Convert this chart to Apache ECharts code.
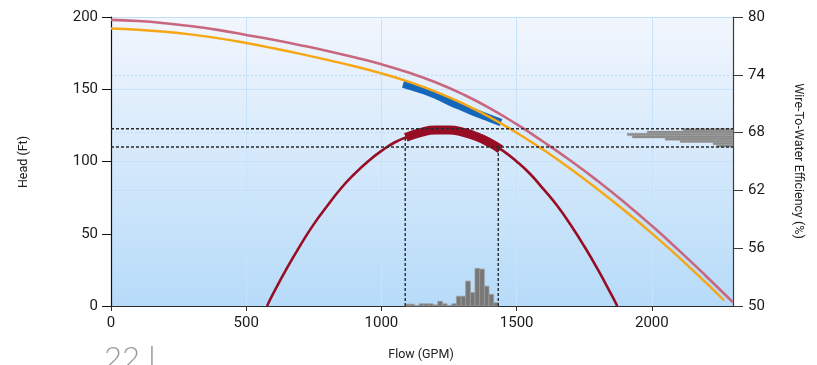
<!DOCTYPE html>
<html>
<head>
<meta charset="utf-8">
<script src="https://cdn.jsdelivr.net/npm/echarts@6/dist/echarts.min.js"></script>
<style>
  html, body { margin: 0; padding: 0; background: #ffffff; }
  #chart { width: 817px; height: 365px; }
</style>
</head>
<body>
<div id="chart"></div>
<script>
// Axis ticks
const flowTicks = [0, 500, 1000, 1500, 2000];
const headTicks = [0, 50, 100, 150, 200];
const effTicks = [50, 56, 62, 68, 74, 80];

// Pump curve at full speed (GPM, ft)
const fullSpeedCurve = [
  [0, 198], [100, 197.2], [200, 195.7], [300, 193.6], [400, 190.9], [500, 187.6],
  [600, 184.2], [700, 180.5], [800, 176.5], [900, 172.1], [1000, 167.3],
  [1100, 161.6], [1200, 154.8], [1300, 146.6], [1400, 137], [1500, 125.8],
  [1600, 113.5], [1700, 100.5], [1800, 86.5], [1900, 71.5], [2000, 55.5],
  [2100, 38.5], [2200, 20.8], [2300, 2.5]
];

// Pump curve at operating speed (GPM, ft)
const operatingCurve = [
  [0, 192], [100, 191.2], [200, 189.8], [300, 187.8], [400, 185.2], [500, 182],
  [600, 178.4], [700, 174.5], [800, 170.3], [900, 165.9], [1000, 161],
  [1100, 155.2], [1200, 148.3], [1300, 140.2], [1400, 130.7], [1500, 119.9],
  [1600, 107.9], [1700, 94.8], [1800, 80.7], [1900, 65.9], [2000, 50.3],
  [2100, 33.7], [2200, 16.1], [2267, 3.8]
];

// Measured operating points (GPM, ft)
const measuredHead = [
  [1080, 153.5], [1150, 149.5], [1200, 146], [1264, 140.3],
  [1300, 137.5], [1350, 133.5], [1400, 130], [1442, 127]
];

// Wire-to-water efficiency curve (GPM, %)
const efficiencyCurve = [
  [577, 50], [600, 51.3], [650, 53.9], [700, 56.3], [750, 58.5], [800, 60.4],
  [850, 62.2], [900, 63.7], [950, 65.0], [1000, 66.1], [1050, 67.0],
  [1100, 67.6], [1150, 68.06], [1200, 68.27], [1250, 68.27], [1300, 68.05],
  [1350, 67.61], [1400, 66.96], [1450, 66.1], [1500, 65.0], [1550, 63.7],
  [1600, 62.1], [1650, 60.4], [1700, 58.4], [1750, 56.2], [1800, 53.8],
  [1850, 51.2], [1872, 50]
];

// Measured efficiency points (GPM, %)
const measuredEfficiency = [
  [1090, 67.5], [1150, 68.06], [1200, 68.27], [1250, 68.27],
  [1300, 68.05], [1350, 67.61], [1400, 66.96], [1440, 66.27]
];

// Operating window
const flowLow = 1088;
const flowHigh = 1432;
const effLow = 66.5;
const effHigh = 68.4;
const effAtFlowLow = 67.5;
const effAtFlowHigh = 66.4;

// Flow distribution (counts per bin, low flow to high flow)
const flowHistStart = 1088;
const flowHistStep = 17.2;
const flowHistCounts = [5, 5, 1, 6, 6, 6, 3, 13, 6, 1, 6, 27, 27, 69, 37, 104, 102, 55, 32, 9];

// Efficiency distribution (counts per bin, high efficiency to low efficiency)
const effHistTop = 68.4;
const effHistStep = 0.2375;
const effHistCounts = [80, 138, 170, 162, 109, 85, 32, 26];

const flowHistData = flowHistCounts.map((c, i) => [
  flowHistStart + i * flowHistStep,
  flowHistStart + (i + 1) * flowHistStep,
  c
]);
const effHistData = effHistCounts.map((c, i) => [
  c,
  effHistTop - (i + 1) * effHistStep,
  effHistTop - i * effHistStep
]);

const plain = (v) => String(v);
const tickFont = { fontFamily: 'Roboto, "Noto Sans", sans-serif', fontSize: 15, color: '#1a1a1a', formatter: plain };
const titleFont = 'normal 12.5px Roboto, "Noto Sans", sans-serif';
const dashStyle = { color: '#2a2a2a', width: 1.4, type: [3, 2] };

const chart = echarts.init(document.getElementById('chart'), null, { renderer: 'canvas' });

chart.setOption({
  animation: false,
  backgroundColor: '#ffffff',
  grid: {
    left: 111, top: 17, right: 84, bottom: 59,
    show: true,
    borderWidth: 0,
    outerBoundsMode: 'none',
    backgroundColor: {
      type: 'linear', x: 0, y: 0, x2: 0, y2: 1,
      colorStops: [
        { offset: 0, color: '#f2f6fd' },
        { offset: 1, color: '#b6dbf9' }
      ]
    }
  },
  xAxis: [
    {
      type: 'value', min: 0, max: 2300, interval: 500, position: 'bottom',
      axisLine: { show: true, onZero: false, lineStyle: { color: '#2b2b2b', width: 1.2 } },
      axisTick: { show: true, length: 5, customValues: flowTicks, lineStyle: { color: '#2b2b2b' } },
      axisLabel: { ...tickFont, margin: 10, customValues: flowTicks },
      splitLine: { show: true, lineStyle: { color: '#c6e3fb', width: 1 } }
    },
    {
      type: 'value', min: 0, max: 1000, inverse: true, show: false,
      position: 'top', splitLine: { show: false }
    }
  ],
  yAxis: [
    {
      type: 'value', min: 0, max: 200, interval: 50, position: 'left',
      axisLine: { show: true, onZero: false, lineStyle: { color: '#111111', width: 1.2 } },
      axisTick: { show: true, length: 9, customValues: headTicks, lineStyle: { color: '#111111' } },
      axisLabel: { ...tickFont, margin: 13, customValues: headTicks },
      splitLine: { show: true, lineStyle: { color: '#c6e3fb', width: 1 } }
    },
    {
      type: 'value', min: 50, max: 80, interval: 6, position: 'right',
      axisLine: { show: true, onZero: false, lineStyle: { color: '#3a3a3a', width: 1.2 } },
      axisTick: { show: true, length: 10, customValues: effTicks, lineStyle: { color: '#3a3a3a' } },
      axisLabel: { ...tickFont, margin: 15, customValues: effTicks },
      splitLine: { show: true, lineStyle: { color: '#b9dbf6', width: 1, type: [2, 2] } }
    },
    {
      type: 'value', min: 0, max: 800, show: false, position: 'left',
      splitLine: { show: false }
    }
  ],
  series: [
    {
      name: 'Flow distribution',
      type: 'custom',
      xAxisIndex: 0, yAxisIndex: 2,
      data: flowHistData,
      encode: { x: [0, 1], y: 2 },
      renderItem: function (params, api) {
        const p0 = api.coord([api.value(0), api.value(2)]);
        const p1 = api.coord([api.value(1), 0]);
        return {
          type: 'rect',
          shape: { x: p0[0], y: p0[1], width: p1[0] - p0[0], height: p1[1] - p0[1] },
          style: { fill: '#777777', stroke: '#9a9a9a', lineWidth: 0.8 }
        };
      },
      z: 2
    },
    {
      name: 'Efficiency distribution',
      type: 'custom',
      xAxisIndex: 1, yAxisIndex: 1,
      data: effHistData,
      encode: { x: 0, y: [1, 2] },
      renderItem: function (params, api) {
        const p0 = api.coord([api.value(0), api.value(2)]);
        const p1 = api.coord([0, api.value(1)]);
        return {
          type: 'rect',
          shape: { x: p0[0], y: p0[1], width: p1[0] - p0[0], height: p1[1] - p0[1] },
          style: { fill: '#8a8a8a', stroke: '#9c9c9c', lineWidth: 0.5 }
        };
      },
      z: 2
    },
    {
      name: 'Measured head',
      type: 'line',
      xAxisIndex: 0, yAxisIndex: 0,
      data: measuredHead,
      smooth: true,
      symbol: 'none',
      lineStyle: { color: '#1467bb', width: 7.5, cap: 'butt' },
      z: 3
    },
    {
      name: 'Full speed',
      type: 'line',
      xAxisIndex: 0, yAxisIndex: 0,
      data: fullSpeedCurve,
      smooth: true,
      symbol: 'none',
      clip: true,
      lineStyle: { color: '#c9677e', width: 2.6 },
      z: 4
    },
    {
      name: 'Operating speed',
      type: 'line',
      xAxisIndex: 0, yAxisIndex: 0,
      data: operatingCurve,
      smooth: true,
      symbol: 'none',
      lineStyle: { color: '#f7a614', width: 2.4 },
      z: 5
    },
    {
      name: 'Efficiency',
      type: 'line',
      xAxisIndex: 0, yAxisIndex: 1,
      data: efficiencyCurve,
      smooth: true,
      symbol: 'none',
      lineStyle: { color: '#980d24', width: 2.6 },
      z: 5
    },
    {
      name: 'Measured efficiency',
      type: 'line',
      xAxisIndex: 0, yAxisIndex: 1,
      data: measuredEfficiency,
      smooth: true,
      symbol: 'none',
      lineStyle: { color: '#980d24', width: 9, cap: 'butt' },
      z: 5
    },
    {
      name: 'Efficiency high',
      type: 'line', xAxisIndex: 0, yAxisIndex: 1,
      data: [[0, effHigh], [2300, effHigh]],
      symbol: 'none', lineStyle: dashStyle, z: 6
    },
    {
      name: 'Efficiency low',
      type: 'line', xAxisIndex: 0, yAxisIndex: 1,
      data: [[0, effLow], [2300, effLow]],
      symbol: 'none', lineStyle: dashStyle, z: 6
    },
    {
      name: 'Flow low',
      type: 'line', xAxisIndex: 0, yAxisIndex: 1,
      data: [[flowLow, 50], [flowLow, effAtFlowLow]],
      symbol: 'none', lineStyle: dashStyle, z: 6
    },
    {
      name: 'Flow high',
      type: 'line', xAxisIndex: 0, yAxisIndex: 1,
      data: [[flowHigh, 50], [flowHigh, effAtFlowHigh]],
      symbol: 'none', lineStyle: dashStyle, z: 6
    }
  ],
  graphic: [
    {
      type: 'text', x: 24, y: 162, rotation: Math.PI / 2,
      style: { text: 'Head (Ft)', font: titleFont, fill: '#222222', align: 'center', verticalAlign: 'middle' }
    },
    {
      type: 'text', x: 798, y: 161, rotation: -Math.PI / 2,
      style: { text: 'Wire-To-Water Efficiency (%)', font: titleFont, fill: '#222222', align: 'center', verticalAlign: 'middle' }
    },
    {
      type: 'text', x: 421, y: 355,
      style: { text: 'Flow (GPM)', font: titleFont, fill: '#222222', align: 'center', verticalAlign: 'middle' }
    },
    {
      type: 'text', x: 104, y: 343,
      style: { text: '22 l', font: '300 31px Lato, "Open Sans", sans-serif', fill: '#9a9a9a', align: 'left', verticalAlign: 'top' }
    }
  ]
});
</script>
</body>
</html>
